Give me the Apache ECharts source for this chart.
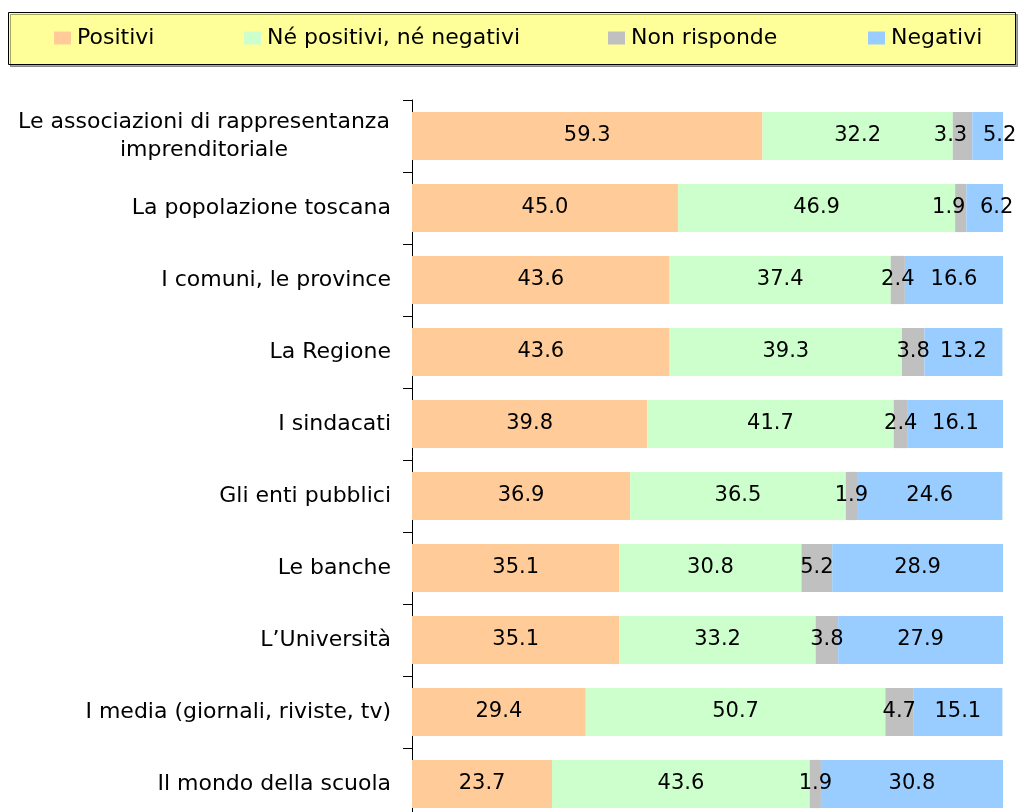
<!DOCTYPE html>
<html>
<head>
<meta charset="utf-8">
<title>Giudizi</title>
<script src="https://cdn.jsdelivr.net/npm/echarts@6/dist/echarts.min.js"></script>
<style>
  html, body { margin: 0; padding: 0; background: #fff; }
  #main { width: 1018px; height: 812px; }
</style>
</head>
<body>
<div id="main"></div>
<script>
// categories, top to bottom
var categories = [
  "Le associazioni di rappresentanza\nimprenditoriale",
  "La popolazione toscana",
  "I comuni, le province",
  "La Regione",
  "I sindacati",
  "Gli enti pubblici",
  "Le banche",
  "L\u2019Università",
  "I media (giornali, riviste, tv)",
  "Il mondo della scuola"
];

var seriesNames = ["Positivi", "Né positivi, né negativi", "Non risponde", "Negativi"];
var seriesColors = ["#FFCC99", "#CCFFCC", "#C0C0C0", "#99CCFF"];

var positivi     = [59.3, 45.0, 43.6, 43.6, 39.8, 36.9, 35.1, 35.1, 29.4, 23.7];
var neutri       = [32.2, 46.9, 37.4, 39.3, 41.7, 36.5, 30.8, 33.2, 50.7, 43.6];
var nonRisponde  = [3.3, 1.9, 2.4, 3.8, 2.4, 1.9, 5.2, 3.8, 4.7, 1.9];
var negativi     = [5.2, 6.2, 16.6, 13.2, 16.1, 24.6, 28.9, 27.9, 15.1, 30.8];

var seriesData = [positivi, neutri, nonRisponde, negativi];

// left edge of each legend entry (one legend per entry, like the spaced-out excel legend)
var legendLefts = [54, 244, 608, 868];

// the excel text is spaced wide, DejaVu Sans gets closest to its widths
var FONT = "DejaVu Sans, Liberation Sans, sans-serif";

// when the last two segments are both thin their labels collide:
// nudge "Non risponde" left and "Negativi" right, as excel does
function nudgeLabel(seriesIndex) {
  return function (params) {
    var i = params.dataIndex;
    if (negativi[i] >= 8) return {};
    if (seriesIndex === 2) return { dx: -12 };
    if (seriesIndex === 3) return { dx: 12 };
    return {};
  };
}

var chart = echarts.init(document.getElementById("main"));

var option = {
  animation: false,
  backgroundColor: "#fff",
  textStyle: { fontFamily: FONT },
  graphic: [
    {
      type: "rect",
      z: -1,
      shape: { x: 8.5, y: 12.5, width: 1007, height: 52 },
      style: {
        fill: "#FFFF99",
        stroke: "#000",
        lineWidth: 1,
        shadowColor: "rgba(0,0,0,0.35)",
        shadowOffsetX: 2,
        shadowOffsetY: 2,
        shadowBlur: 0
      }
    }
  ],
  legend: seriesNames.map(function (name, i) {
    return {
      data: [name],
      left: legendLefts[i],
      top: 27,
      padding: 0,
      itemWidth: 17,
      itemHeight: 13,
      itemGap: 6,
      icon: "rect",
      selectedMode: false,
      textStyle: { fontFamily: FONT, fontSize: 22, color: "#000", padding: [0, 0, 0, 1] }
    };
  }),
  grid: {
    left: 412,
    top: 100,
    width: 591,
    height: 720,
    outerBoundsMode: "none",
    containLabel: false
  },
  xAxis: {
    type: "value",
    min: 0,
    max: 100,
    show: false
  },
  yAxis: {
    type: "category",
    inverse: true,
    data: categories,
    axisLine: { show: true, lineStyle: { color: "#000", width: 1 } },
    axisTick: { show: true, length: 9, lineStyle: { color: "#000" } },
    axisLabel: {
      margin: 21,
      color: "#000",
      fontFamily: FONT,
      fontSize: 22,
      formatter: function (value) {
        if (value.indexOf("\n") >= 0) {
          // excel centres the two lines of a wrapped label on each other
          return value.split("\n").map(function (s) { return "{c|" + s + "}"; }).join("\n");
        }
        return value;
      },
      rich: {
        c: { width: 374, align: "center", fontSize: 22, lineHeight: 28, color: "#000", fontFamily: FONT }
      }
    }
  },
  series: seriesNames.map(function (name, i) {
    return {
      name: name,
      type: "bar",
      stack: "total",
      barCategoryGap: "33%",
      data: seriesData[i],
      itemStyle: { color: seriesColors[i] },
      label: {
        show: true,
        position: "inside",
        color: "#000",
        fontFamily: FONT,
        fontSize: 21,
        formatter: function (p) { return p.value.toFixed(1); }
      },
      labelLayout: nudgeLabel(i)
    };
  })
};

chart.setOption(option);
</script>
</body>
</html>
